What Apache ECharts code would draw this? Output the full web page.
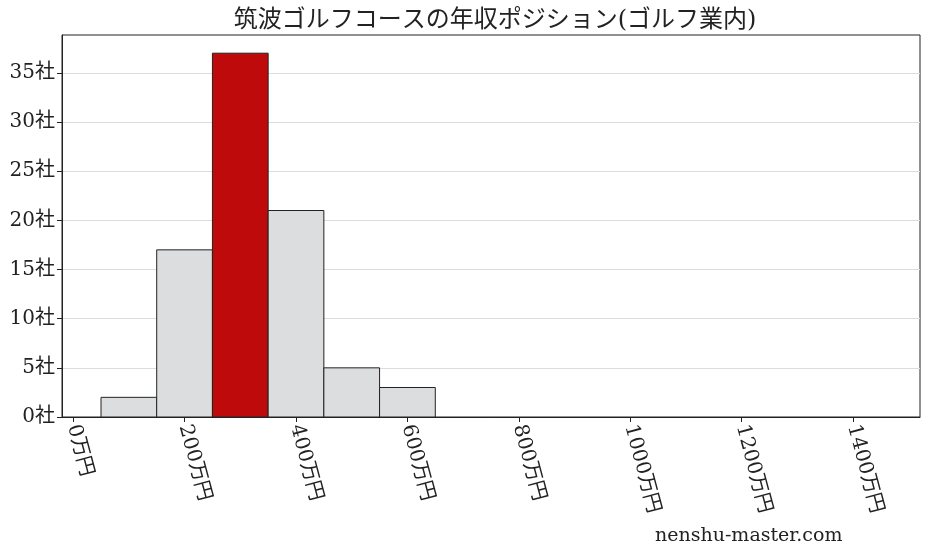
<!DOCTYPE html>
<html>
<head>
<meta charset="utf-8">
<title>年収ポジション</title>
<style>
html, body { margin:0; padding:0; width:100%; height:100%; background:#fff; }
#main { width:928px; height:557px; }
</style>
</head>
<body>
<div id="main"></div>
<script src="https://cdn.jsdelivr.net/npm/echarts@6/dist/echarts.min.js"></script>
<script>
// 年収の階級（中心値, 万円）と会社数
var binCenters = [100, 200, 300, 400, 500, 600];
var companyCounts = [2, 17, 37, 21, 5, 3];
var highlightCenter = 300;
var binWidth = 100;
var xTickValues = [0, 200, 400, 600, 800, 1000, 1200, 1400];
var yTickValues = [0, 5, 10, 15, 20, 25, 30, 35];

var FONT = "'DejaVu Serif', 'Noto Sans CJK JP', serif";

var chartData = binCenters.map(function (c, i) { return [c, companyCounts[i]]; });

var myChart = echarts.init(document.getElementById('main'));

var options = {
    animation: false,
    backgroundColor: '#fff',
    title: {
        text: '筑波ゴルフコースの年収ポジション(ゴルフ業内)',
        left: 490,
        textAlign: 'center',
        top: 4,
        textStyle: { fontFamily: FONT, fontSize: 24, fontWeight: 'normal', color: '#222' }
    },
    grid: {
        left: 62, right: 8, top: 35, bottom: 140,
        show: true, borderColor: '#222', borderWidth: 1
    },
    xAxis: {
        type: 'value',
        min: -20,
        max: 1520,
        axisLine: { show: true, onZero: false, lineStyle: { color: '#222' } },
        axisTick: { show: true, length: 5, customValues: xTickValues, lineStyle: { color: '#222' } },
        splitLine: { show: false },
        axisLabel: {
            customValues: xTickValues,
            rotate: -75,
            margin: 8,
            fontFamily: FONT,
            fontSize: 20,
            color: '#222',
            formatter: function (v) { return v + '万円'; }
        }
    },
    yAxis: {
        type: 'value',
        min: 0,
        max: 38.85,
        axisLine: { show: true, onZero: false, lineStyle: { color: '#222' } },
        axisTick: { show: true, length: 5, customValues: yTickValues, lineStyle: { color: '#222' } },
        splitLine: { show: true, lineStyle: { color: '#dcdcdc', width: 1 } },
        axisLabel: {
            customValues: yTickValues,
            margin: 7,
            fontFamily: FONT,
            fontSize: 20,
            color: '#222',
            formatter: function (v) { return v + '社'; }
        }
    },
    series: [{
        type: 'custom',
        data: chartData,
        encode: { x: 0, y: 1 },
        renderItem: function (params, api) {
            var c = api.value(0);
            var topLeft = api.coord([c - binWidth / 2, api.value(1)]);
            var bottomRight = api.coord([c + binWidth / 2, 0]);
            return {
                type: 'rect',
                shape: {
                    x: topLeft[0], y: topLeft[1],
                    width: bottomRight[0] - topLeft[0],
                    height: bottomRight[1] - topLeft[1]
                },
                style: {
                    fill: c === highlightCenter ? '#be0a0a' : '#dcdddf',
                    stroke: '#222',
                    lineWidth: 1
                }
            };
        }
    }],
    graphic: [{
        type: 'text',
        left: 655,
        top: 527,
        style: { text: 'nenshu-master.com', fontFamily: FONT, fontSize: 19, fill: '#222' }
    }]
};

myChart.setOption(options);
</script>
</body>
</html>
